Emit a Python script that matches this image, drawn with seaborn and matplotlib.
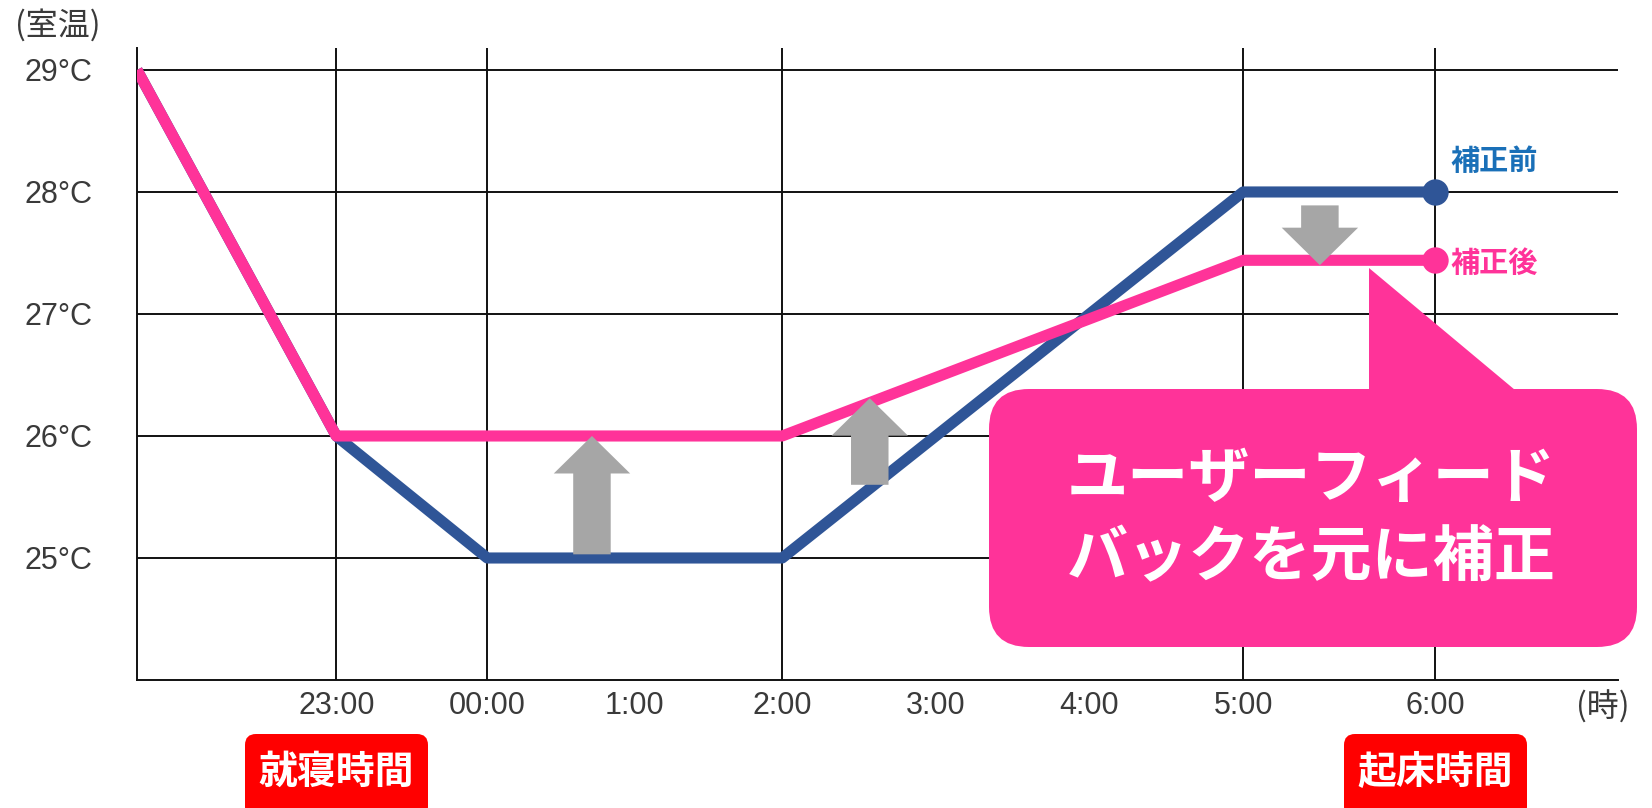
import numpy as np
import pandas as pd
import seaborn as sns
import matplotlib
matplotlib.use("Agg")
import matplotlib.pyplot as plt
from matplotlib import font_manager
from matplotlib.patches import FancyBboxPatch, Polygon
from matplotlib.transforms import Affine2D

# ---- data -------------------------------------------------------------
hours = [21.68, 23, 24, 26, 29, 30]
temp_before = [29, 26, 25, 25, 28, 28]
temp_after = [29, 26, 26, 26, 27.44, 27.44]
series_names = ["補正前", "補正後"]

tick_hours = [23, 24, 25, 26, 27, 28, 29, 30]
tick_labels = ["23:00", "00:00", "1:00", "2:00", "3:00", "4:00", "5:00", "6:00"]
grid_hours = [23, 24, 26, 29, 30]
temp_ticks = [25, 26, 27, 28, 29]
temp_labels = ["25°C", "26°C", "27°C", "28°C", "29°C"]

# correction arrows: hour, start temperature, end temperature
arrow_hours = [24.71, 26.57, 29.40]
arrow_from = [25.03, 25.60, 27.89]
arrow_to = [26.00, 26.31, 27.40]

callout_text = "ユーザーフィード\nバックを元に補正"
bed_label = "就寝時間"
wake_label = "起床時間"

# ---- style ------------------------------------------------------------
BLUE = "#2F5597"
PINK = "#FF3399"
LABEL_BLUE = "#1A70B8"
GRAY = "#A6A6A6"
RED = "#FF0000"
TEXT = "#3A3A3A"

sns.set_theme(style="white")
installed = {f.name for f in font_manager.fontManager.ttflist}
num_family = [f for f in ["Liberation Sans Narrow", "DejaVu Sans Condensed",
                          "Liberation Sans"] if f in installed]
CJK = ["Noto Sans CJK JP", "DejaVu Sans"]
plt.rcParams["font.family"] = num_family + CJK

W, H = 1652, 808
fig = plt.figure(figsize=(W / 100, H / 100), dpi=100)
fig.patch.set_facecolor("white")
# pixel coordinates measured from the top-left corner of the canvas
PX = Affine2D().scale(1, -1).translate(0, H)

L, R, T, B = 137, 1618, 48, 680
ax = fig.add_axes([L / W, 1 - B / H, (R - L) / W, (B - T) / H])

# uneven hour widths along the time axis (knots at the grid hours)
KNOT_H = [21, 23, 24, 26, 29, 30, 31]
KNOT_U = [-302, 0, 151, 446, 907, 1099, 1291]


def fwd(h):
    return np.interp(np.asarray(h, dtype=float), KNOT_H, KNOT_U)


def inv(u):
    return np.interp(np.asarray(u, dtype=float), KNOT_U, KNOT_H)


ax.set_xscale("function", functions=(fwd, inv))
ax.set_xlim(hours[0], 30.953)
ax.set_ylim(24.0, 29.18)

# grid
for t in temp_ticks:
    ax.axhline(t, color="#111111", lw=1.4, zorder=1)
for h in grid_hours:
    ax.axvline(h, color="#111111", lw=1.4, zorder=1)

df = pd.DataFrame({
    "hour": hours * 2,
    "temp": temp_before + temp_after,
    "series": [series_names[0]] * len(hours) + [series_names[1]] * len(hours),
})
for name, color, z in [(series_names[0], BLUE, 3), (series_names[1], PINK, 4)]:
    sns.lineplot(data=df[df["series"] == name], x="hour", y="temp", ax=ax,
                 color=color, linewidth=8, marker="o", markevery=[-1],
                 markersize=19, markeredgewidth=0, solid_joinstyle="round",
                 solid_capstyle="butt", zorder=z, legend=False)

# end-of-line series labels
ax.annotate(series_names[0], xy=(hours[-1], temp_before[-1]),
            xytext=(15, 31), textcoords="offset pixels", ha="left",
            va="center", fontsize=21, fontweight="bold", color=LABEL_BLUE,
            family=CJK, zorder=6)
ax.annotate(series_names[1], xy=(hours[-1], temp_after[-1]),
            xytext=(15, -3), textcoords="offset pixels", ha="left",
            va="center", fontsize=21, fontweight="bold", color=PINK,
            family=CJK, zorder=6)

# correction arrows
for h, a, b in zip(arrow_hours, arrow_from, arrow_to):
    ax.annotate("", xy=(h, b), xytext=(h, a),
                arrowprops=dict(arrowstyle="simple,head_length=1.35,"
                                           "head_width=2.75,tail_width=1.35",
                                color=GRAY, lw=0, shrinkA=0, shrinkB=0,
                                mutation_scale=20),
                zorder=5)

# axes and ticks
ax.set_xticks(tick_hours)
ax.set_xticklabels(tick_labels)
ax.set_yticks(temp_ticks)
ax.set_yticklabels(temp_labels)
ax.tick_params(axis="both", length=0, labelsize=22, labelcolor=TEXT)
ax.tick_params(axis="x", pad=8)
ax.tick_params(axis="y", pad=32)
ax.set_xlabel("")
ax.set_ylabel("")
for side in ["top", "right"]:
    ax.spines[side].set_visible(False)
for side in ["left", "bottom"]:
    ax.spines[side].set_color("#111111")
    ax.spines[side].set_linewidth(1.4)

# axis unit captions
fig.text(15, 25, "(室温)", transform=PX, ha="left", va="center",
         fontsize=23, color=TEXT, family=CJK)
fig.text(1603, 707, "(時)", transform=PX, ha="center", va="center",
         fontsize=23, color=TEXT, family=CJK)

# callout bubble
bubble = FancyBboxPatch((989, 389), 648, 258,
                        boxstyle="round,pad=0,rounding_size=40",
                        transform=PX, facecolor=PINK, edgecolor="none",
                        zorder=7)
pointer = Polygon([(1369, 268), (1369, 400), (1527, 400)], closed=True,
                  transform=PX, facecolor=PINK, edgecolor="none", zorder=7)
fig.add_artist(pointer)
fig.add_artist(bubble)
fig.text(1311, 519, callout_text, transform=PX, ha="center", va="center",
         fontsize=44, fontweight="bold", color="white", family=CJK,
         linespacing=1.38, zorder=8)

# bedtime / wake-up badges
for x0, label in [(245, bed_label), (1344, wake_label)]:
    badge = FancyBboxPatch((x0, 734), 183, 84,
                           boxstyle="round,pad=0,rounding_size=11",
                           transform=PX, facecolor=RED, edgecolor="none",
                           zorder=7)
    fig.add_artist(badge)
    fig.text(x0 + 91.5, 772, label, transform=PX, ha="center", va="center",
             fontsize=28, fontweight="bold", color="white", family=CJK,
             zorder=8)

fig.savefig("out.png", dpi=100, facecolor="white")
